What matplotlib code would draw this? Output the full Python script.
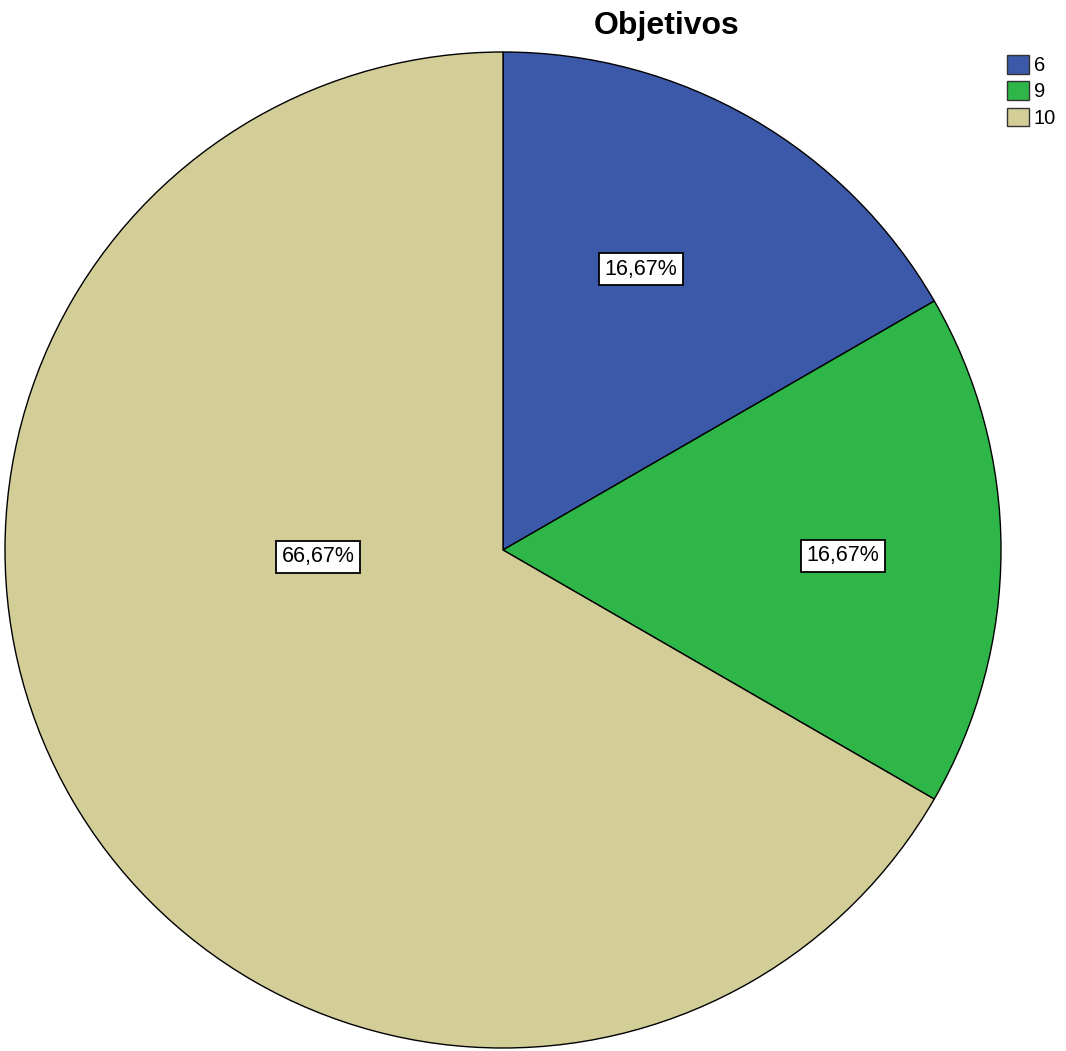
import matplotlib.pyplot as plt
from matplotlib.patches import Patch

plt.rcParams['font.family'] = ['Liberation Sans', 'DejaVu Sans']

# data
categorias = ['6', '9', '10']
porcentajes = [16.67, 16.67, 66.67]
colores = ['#3c58a8', '#2eb748', '#d3ce98']
# label positions (fraction of radius), as placed in the original
pos_etiquetas = [(0.277, 0.564), (0.683, -0.012), (-0.371, -0.014)]

fig = plt.figure(figsize=(10.66, 10.51), dpi=100)
W, H = 1066, 1051
cx, cy, r = 503, 550, 498
ax = fig.add_axes([(cx - r) / W, (H - cy - r) / H, 2 * r / W, 2 * r / H])

wedges, texts = ax.pie(
    porcentajes, colors=colores, startangle=90, counterclock=False,
    radius=1, wedgeprops=dict(edgecolor='black', linewidth=1.0))

for p, (x, y) in zip(porcentajes, pos_etiquetas):
    ax.text(x, y, ('%.2f%%' % p).replace('.', ','), fontsize=15.5,
            ha='center', va='center',
            bbox=dict(boxstyle='square,pad=0.25', facecolor='white',
                      edgecolor='black', linewidth=1.3))

ax.set_xlim(-1, 1)
ax.set_ylim(-1, 1)
ax.set_aspect('equal')
ax.axis('off')

fig.text(667 / W, 1 - 26 / H, 'Objetivos', ha='center', va='center',
         fontsize=23, fontweight='bold')

handles = [Patch(facecolor=c, edgecolor='#333333', linewidth=1.0) for c in colores]
fig.legend(handles, categorias, loc='upper left',
           bbox_to_anchor=(1007 / W, 1 - 55 / H), frameon=False,
           fontsize=14.5, handlelength=1.1, handleheight=1.05,
           handletextpad=0.22, labelspacing=0.3, borderaxespad=0,
           borderpad=0)

fig.savefig('out.png', dpi=100, facecolor='white')
